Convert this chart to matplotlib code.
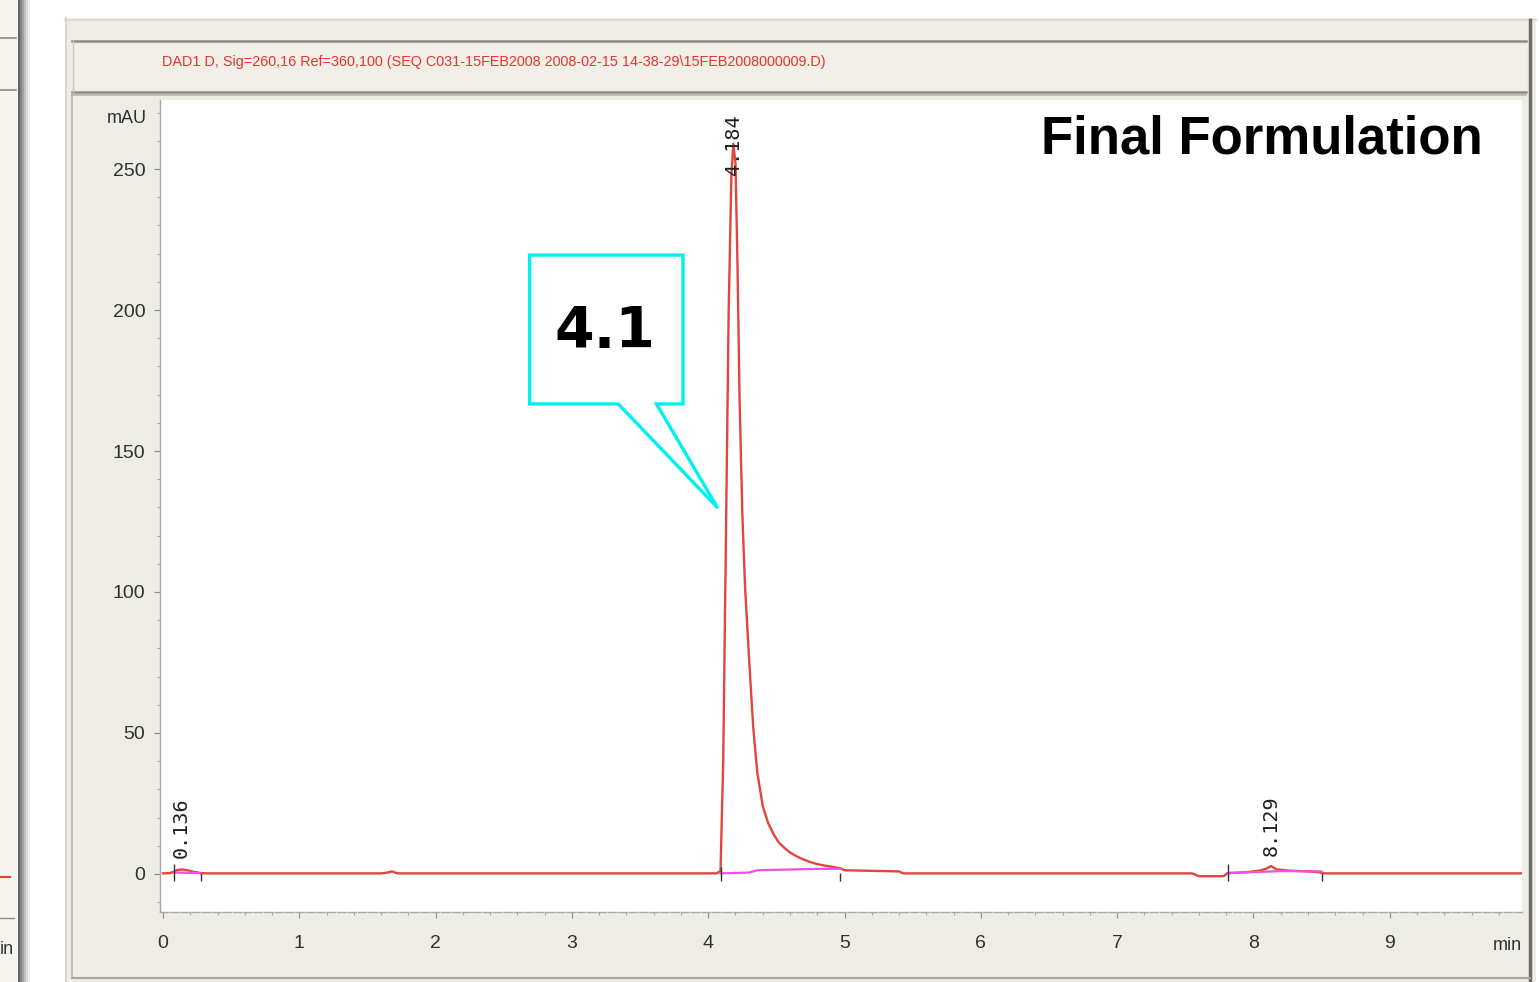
import matplotlib
matplotlib.use("Agg")
import matplotlib.pyplot as plt
from matplotlib.patches import Rectangle, Polygon
from matplotlib.ticker import MultipleLocator
import numpy as np

W, H = 1539, 982

# chromatogram trace, DAD1 D (time in min, signal in mAU)
trace_time = [0.00, 0.05, 0.08, 0.10, 0.136, 0.18, 0.22, 0.28, 0.32,
              1.60, 1.65, 1.68, 1.72, 4.06, 4.09, 4.11, 4.13, 4.15,
              4.17, 4.184, 4.20, 4.215, 4.23, 4.25, 4.27, 4.30, 4.33,
              4.36, 4.40, 4.44, 4.48, 4.52, 4.56, 4.60, 4.65, 4.70,
              4.75, 4.80, 4.85, 4.90, 4.97, 5.00,
              5.40, 5.43, 7.55, 7.60, 7.78, 7.81, 7.95, 8.05, 8.10,
              8.129, 8.17, 8.25, 8.40, 8.48, 8.52, 9.97]
trace_mau = [0.2, 0.3, 0.8, 1.3, 1.6, 1.3, 0.8, 0.3, 0.2,
             0.2, 0.5, 0.9, 0.2, 0.2, 1.0, 40.0, 120.0, 200.0,
             248.0, 259.0, 252.0, 215.0, 168.0, 128.0, 102.0, 76.0, 52.0,
             36.0, 24.0, 18.0, 14.0, 11.0, 9.2, 7.6, 6.2, 5.1,
             4.2, 3.5, 3.0, 2.6, 2.0, 1.3,
             0.9, 0.2, 0.2, -0.8, -0.8, 0.3, 0.6, 1.2, 2.0,
             2.8, 1.6, 1.2, 0.9, 0.6, 0.2, 0.2]

# integration baselines
baseline_segments = [
    ([0.08, 0.28], [0.5, 0.3]),
    ([4.09, 4.30, 4.36, 4.80, 4.97], [0.2, 0.5, 1.3, 1.8, 1.8]),
    ([7.81, 8.20, 8.50], [0.3, 1.0, 0.9]),
]
event_times = [0.08, 0.28, 4.09, 4.97, 7.81, 8.50]

peak_rt = [0.136, 4.184, 8.129]
peak_label_y = [5.5, 248.0, 6.5]

x_ticks = list(range(10))
y_ticks = [0, 50, 100, 150, 200, 250]

title_text = ("DAD1 D, Sig=260,16 Ref=360,100 (SEQ C031-15FEB2008 "
              "2008-02-15 14-38-29\\15FEB2008000009.D)")

FRAME = "#eeede5"
DARK = "#8c8b84"
NARROW = ["DejaVu Sans Condensed", "Liberation Sans"]

fig = plt.figure(figsize=(W / 100, H / 100), dpi=100)
fig.patch.set_facecolor("white")


def px_rect(x0, y0, x1, y1, **kw):
    fig.patches.append(Rectangle((x0 / W, 1 - y1 / H), (x1 - x0) / W,
                                 (y1 - y0) / H, transform=fig.transFigure,
                                 **kw))


def px_line(xs, ys, **kw):
    fig.lines.append(plt.Line2D([x / W for x in xs], [1 - y / H for y in ys],
                                transform=fig.transFigure, **kw))


# neighbouring window on the left edge
px_rect(0, 0, 18, H, facecolor="#f5f4ee", edgecolor="none")
px_line([0, 16], [38, 38], color=DARK, lw=1.2)
px_line([0, 16], [90, 90], color=DARK, lw=1.2)
px_line([0, 10], [877, 877], color="#e04030", lw=1.5)
px_line([0, 14], [918, 918], color=DARK, lw=1.0)
fig.text(0, 1 - 950 / H, "in", fontsize=13, family=NARROW, color="#333333",
         va="center", ha="left")
for i, a in enumerate([0.75, 0.6, 0.45, 0.3, 0.18, 0.08]):
    px_rect(18 + 2 * i, 0, 20 + 2 * i, H, facecolor="#303030", alpha=a,
            edgecolor="none")

# main window frame
px_rect(65, 18, 1536, H, facecolor=FRAME, edgecolor="none")
px_line([65, 1536], [20, 20], color="#dcdad0", lw=1.5)
px_line([66, 66], [18, H], color="#d8d6cc", lw=1.5)
# header bar
px_rect(72, 40, 1526, 93, facecolor="#f0efe8", edgecolor="none")
px_line([72, 1526], [41, 41], color=DARK, lw=1.8)
px_line([72, 1526], [92, 92], color=DARK, lw=1.8)
px_line([73, 73], [41, 92], color="#c8c6bc", lw=1.0)
# plot panel
px_line([72, 72], [95, 978], color="#b8b6ac", lw=1.2)
px_line([72, 1526], [95, 95], color="#b8b6ac", lw=1.2)
px_line([1530, 1530], [20, H], color="#6c6b66", lw=2.5)
px_line([72, 1530], [978, 978], color="#a8a69c", lw=1.5)

fig.text(162 / W, 1 - 62 / H, title_text, color="#e8352c", fontsize=10.4,
         family=NARROW, va="center", ha="left")

ax = fig.add_axes([160 / W, 1 - 912 / H, (1522 - 160) / W, (912 - 100) / H])
ax.set_zorder(10)
ax.set_facecolor("white")
ax.set_xlim(-0.022, 9.97)
ax.set_ylim(-13.5, 274.5)

ax.plot(trace_time, trace_mau, color="#e2453c", lw=1.7, zorder=3,
        solid_joinstyle="round")
for bt, bv in baseline_segments:
    ax.plot(bt, bv, color="#f050e8", lw=1.6, zorder=4)
ax.vlines(event_times, [-2.5, -2.5, -2.5, -2.5, -2.5, -2.5],
          [3.5, 0.5, 2.5, 0.5, 3.5, 0.5], color="#303030", lw=1.0, zorder=5)

for rt, ly in zip(peak_rt, peak_label_y):
    ax.text(rt, ly, f"{rt:.3f}", rotation=90, ha="center", va="bottom",
            fontsize=14.5, family=["DejaVu Sans Mono", "DejaVu Sans"],
            color="#202020", zorder=6, clip_on=False)

for side in ["top", "right"]:
    ax.spines[side].set_visible(False)
for side in ["left", "bottom"]:
    ax.spines[side].set_color("#a8a8a8")
    ax.spines[side].set_linewidth(1.0)
ax.spines["bottom"].set_linestyle((0, (6, 1.5)))

ax.set_xticks(x_ticks)
ax.set_yticks(y_ticks)
ax.xaxis.set_minor_locator(MultipleLocator(0.2))
ax.yaxis.set_minor_locator(MultipleLocator(10))
ax.tick_params(axis="both", which="major", direction="out", length=4.5,
               width=0.9, color="#909090", labelcolor="#303030",
               labelsize=14)
ax.tick_params(axis="both", which="minor", direction="out", length=2.5,
               width=0.8, color="#a8a8a8")
ax.tick_params(axis="x", which="major", pad=12)
ax.tick_params(axis="y", which="major", pad=6)
for lab in ax.get_xticklabels() + ax.get_yticklabels():
    lab.set_family(NARROW)

ax.text(-0.12, 268, "mAU", ha="right", va="center", fontsize=13,
        family=NARROW, color="#303030", clip_on=False)
ax.text(9.97, -25.5, "min", ha="right", va="center", fontsize=13,
        family=NARROW, color="#303030", clip_on=False)

ax.text(0.971, 0.951, "Final Formulation", transform=ax.transAxes,
        ha="right", va="center", fontsize=38, fontweight="bold",
        family=["Liberation Sans", "DejaVu Sans"], color="black")

# callout box pointing at the main peak
box = [(2.69, 219.5), (3.815, 219.5), (3.815, 166.7), (3.62, 166.7),
       (4.07, 129.8), (3.34, 166.7), (2.69, 166.7)]
ax.add_patch(Polygon(box, closed=True, facecolor="white",
                     edgecolor="#00f0f0", lw=2.4, zorder=7))
ax.text(3.24, 192, "4.1", ha="center", va="center", fontsize=41,
        fontweight="bold", color="black", zorder=8)

fig.savefig("out.png", dpi=100, facecolor=fig.get_facecolor())
